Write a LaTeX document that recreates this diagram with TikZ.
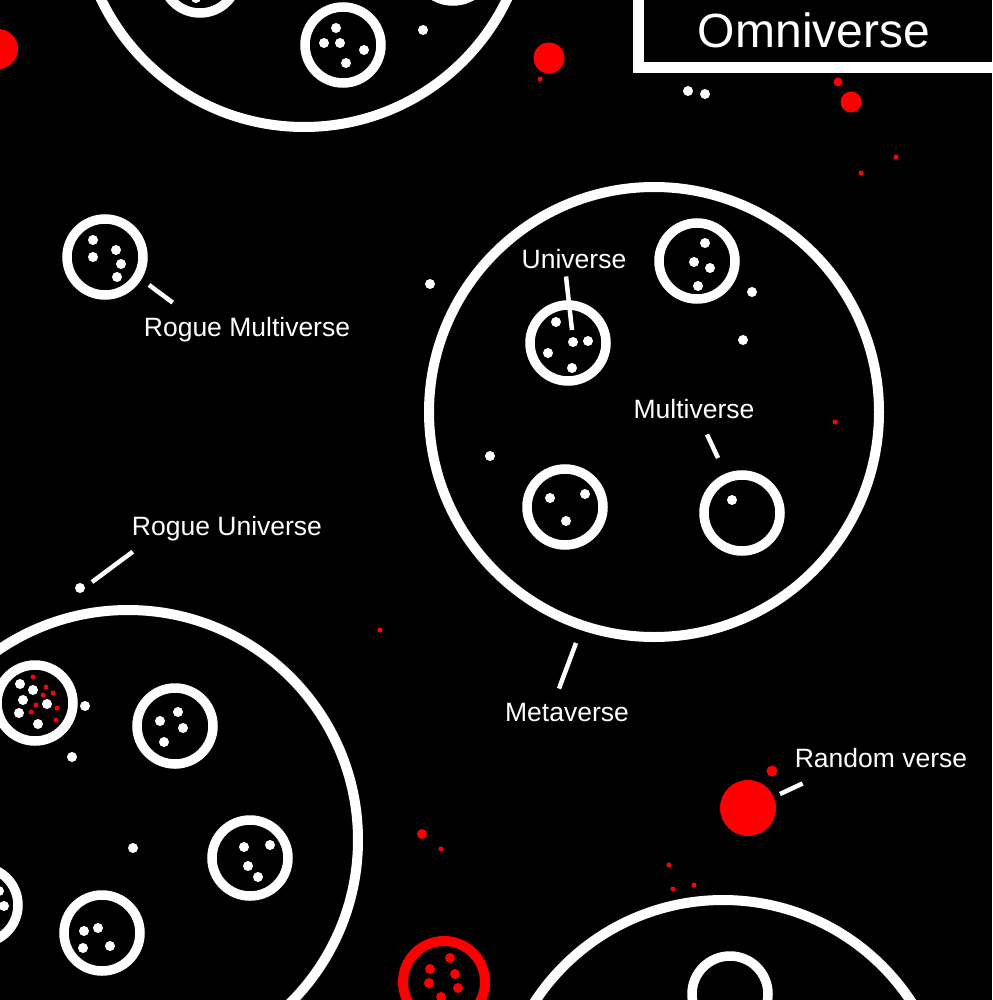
\documentclass[tikz,border=0pt]{standalone}
\usepackage{fontspec}
\setmainfont{Liberation Sans}
\usetikzlibrary{calc}

\tikzset{
  metaring/.style={draw=white, line width=10pt},
  uring/.style={draw=white, line width=9.5pt},
  redring/.style={draw=red, line width=10pt},
  wdot/.style={fill=white},
  rdot/.style={fill=red},
  leader/.style={draw=white, line width=4.5pt},
  lbl/.style={text=white, inner sep=0pt, anchor=base, font=\fontsize{26.5}{30}\selectfont},
  titlelbl/.style={text=white, inner sep=0pt, anchor=base, font=\fontsize{48}{54}\selectfont},
}

\begin{document}
\begin{tikzpicture}[x=1pt, y=-1pt]
  \useasboundingbox (0,0) rectangle (992,1000);
  \fill[black] (0,0) rectangle (992,1000);
  \clip (0,0) rectangle (992,1000);

  % metaverses
  \foreach \x/\y/\r in {304/-98/225, 654/412/225, 128/840/230, 723/1125/225}
    \draw[metaring] (\x,\y) circle[radius=\r];

  % multiverses
  \foreach \x/\y in {200/-25, 453/-37, 343/45, 568/343, 697/261, 565/507, 742/513,
                     105/257, 35/703, 175/726, 250/858, 102/933, -20/905, 730/994}
    \draw[uring] (\x,\y) circle[radius=38];
  \draw[redring] (444,982) circle[radius=41];

  % universes
  \foreach \x/\y in {196/-2, 336/28, 324/43, 340/43, 364/50, 346/63, 423/30, 688/91, 705/94,
                     556/322, 548/353, 573/342, 588/341, 572/368,
                     705/243, 694/262, 710/268, 698/286, 752/292, 743/340,
                     490/456, 430/284, 550/498, 585/494, 566/521, 732/500,
                     93/240, 116/250, 93/257, 121/264, 117/277, 80/588,
                     20/684, 33/690, 23/700, 47/704, 19/713, 38/724, 85/706, 72/757,
                     160/721, 178/712, 183/728, 164/742, 244/847, 270/845, 248/866, 258/877,
                     84/931, 98/928, 110/946, 83/948, 4/906, -1/891, 133/848}
    \fill[wdot] (\x,\y) circle[radius=5];

  % random verses
  \foreach \x/\y in {33/677, 46/687, 43/695, 53/693, 36/705, 31/712, 57/708, 56/720,
                     540/79, 896/157, 861/173, 835/422, 380/630, 441/849, 669/865, 673/889, 694/885}
    \fill[rdot] (\x,\y) circle[radius=2.5];
  \foreach \x/\y in {450/958, 430/969, 455/974, 429/983, 458/988, 441/997}
    \fill[rdot] (\x,\y) circle[radius=5];
  \foreach \x/\y/\r in {838/82/4.5, 851/102/10.5, -2/49/20, 549/58/15.5, 422/834/5, 772/771/5.5, 748/808/28}
    \fill[rdot] (\x,\y) circle[radius=\r];

  % title box
  \draw[white, line width=11pt] (638.5,-20) rectangle (1010,68);
  \node[titlelbl] (omni) at (814,48) {Omniverse};

  % labels
  \node[lbl] (univ) at (574,268) {Universe};
  \node[lbl] (multi) at (694,418) {Multiverse};
  \node[lbl] (meta) at (567,721) {Metaverse};
  \node[lbl] (rmulti) at (247,336) {Rogue Multiverse};
  \node[lbl] (runi) at (227,535) {Rogue Universe};
  \node[lbl] (rand) at (881,767) {Random verse};

  \coordinate (univ-end) at (572,330);
  \coordinate (multi-end) at (718,458);
  \coordinate (meta-end) at (576,643);
  \coordinate (rmulti-end) at (149,285);
  \coordinate (runi-end) at (92,582);
  \coordinate (rand-end) at (780,794);

  \draw[leader] ($(univ.south)+(-8,8)$) -- (univ-end);
  \draw[leader] ($(multi.south)+(13,16)$) -- (multi-end);
  \draw[leader] ($(meta.north)+(-8,-14)$) -- (meta-end);
  \draw[leader] ($(rmulti.north west)+(29,-14)$) -- (rmulti-end);
  \draw[leader] ($(runi.south west)+(1,11)$) -- (runi-end);
  \draw[leader] ($(rand.south west)+(8,16)$) -- (rand-end);
\end{tikzpicture}
\end{document}
